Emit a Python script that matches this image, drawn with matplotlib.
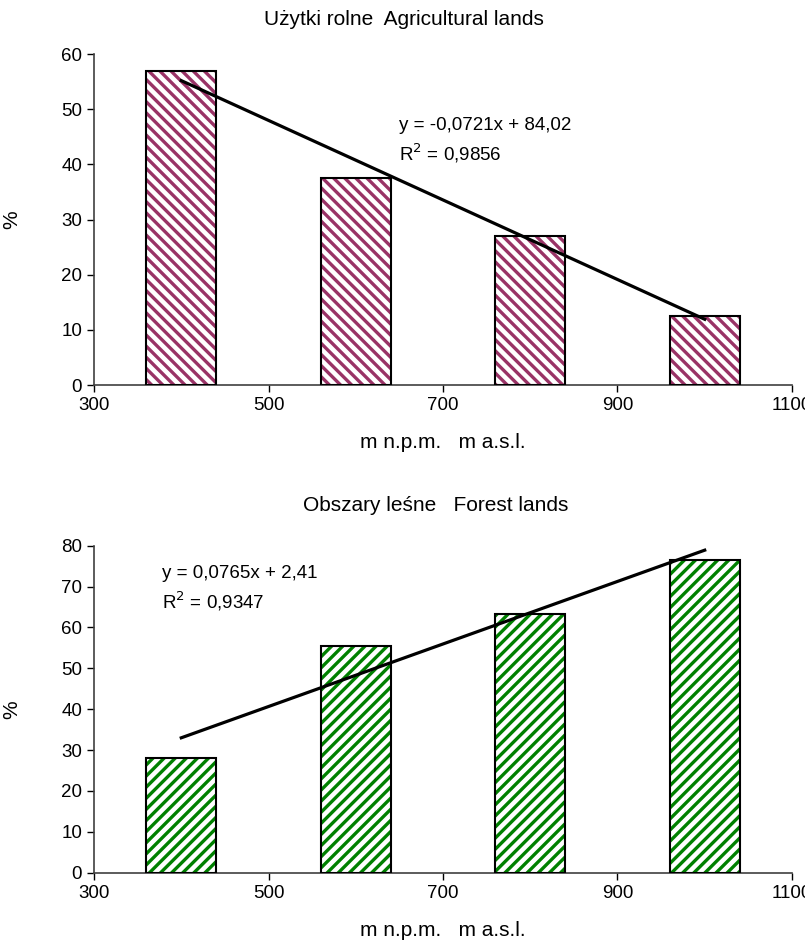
import matplotlib
matplotlib.use("Agg")
import matplotlib.pyplot as plt
import numpy as np

# dane
ALTITUDE = [400, 600, 800, 1000]          # m n.p.m.
AGRI_PCT = [57.0, 37.5, 27.0, 12.5]       # użytki rolne (%)
FOREST_PCT = [28.0, 55.5, 63.3, 76.5]     # obszary leśne (%)
AGRI_FIT = (-0.0721, 84.02)               # a, b
FOREST_FIT = (0.0765, 2.41)
AGRI_R2 = "0,9856"
FOREST_R2 = "0,9347"
X_TICKS = [300, 500, 700, 900, 1100]
AGRI_Y_TICKS = [0, 10, 20, 30, 40, 50, 60]
FOREST_Y_TICKS = [0, 10, 20, 30, 40, 50, 60, 70, 80]

plt.rcParams['font.family'] = ['Liberation Sans', 'DejaVu Sans']
plt.rcParams['hatch.linewidth'] = 2.4

FS = 13.5      # ticks, równania
FS_LAB = 15    # tytuły, opisy osi


def draw_panel(ax, values, fit, r2, color, hatch, yticks, title, title_x, title_pad, eq_pos):
    ax.bar(ALTITUDE, values, width=80, facecolor='white', edgecolor=color,
           hatch=hatch, linewidth=0, zorder=2)
    # czarna ramka słupków
    ax.bar(ALTITUDE, values, width=80, facecolor='none', edgecolor='black',
           linewidth=1.5, zorder=3)

    # linia trendu
    xs = np.array([ALTITUDE[0], ALTITUDE[-1]])
    ax.plot(xs, fit[0] * xs + fit[1], color='black', linewidth=2.3, zorder=4)

    a_txt = f"{fit[0]:.4f}".replace('.', ',')
    b_txt = f"{fit[1]:.2f}".replace('.', ',')
    ax.text(eq_pos[0], eq_pos[1],
            f"y = {a_txt}x + {b_txt}\nR$^2$ = {r2}",
            fontsize=FS, va='top', ha='left', linespacing=1.4)

    ax.set_xlim(300, 1100)
    ax.set_ylim(0, yticks[-1])
    ax.set_xticks(X_TICKS)
    ax.set_yticks(yticks)
    ax.tick_params(labelsize=FS, direction='out', length=5, width=1)
    ax.spines['top'].set_visible(False)
    ax.spines['right'].set_visible(False)
    for s in ('left', 'bottom'):
        ax.spines[s].set_color('#404040')
        ax.spines[s].set_linewidth(1.2)
    ax.set_title(title, fontsize=FS_LAB, pad=title_pad, x=title_x)
    ax.set_xlabel("m n.p.m.   m a.s.l.", fontsize=FS_LAB, labelpad=14)
    ax.set_ylabel("%", fontsize=FS_LAB)
    ax.yaxis.set_label_coords(-0.104, 0.5)


fig = plt.figure(figsize=(8.05, 9.43), dpi=100)
ax1 = fig.add_axes([0.1168, 0.5917, 0.867, 0.351])
ax2 = fig.add_axes([0.1168, 0.0745, 0.867, 0.3468])

draw_panel(ax1, AGRI_PCT, AGRI_FIT, AGRI_R2, '#993366', '\\\\\\', AGRI_Y_TICKS,
           "Użytki rolne  Agricultural lands", 0.444, 21, (650, 48.6))
draw_panel(ax2, FOREST_PCT, FOREST_FIT, FOREST_R2, '#008000', '///', FOREST_Y_TICKS,
           "Obszary leśne   Forest lands", 0.49, 25, (378, 75.4))

fig.savefig("out.png", dpi=100)
